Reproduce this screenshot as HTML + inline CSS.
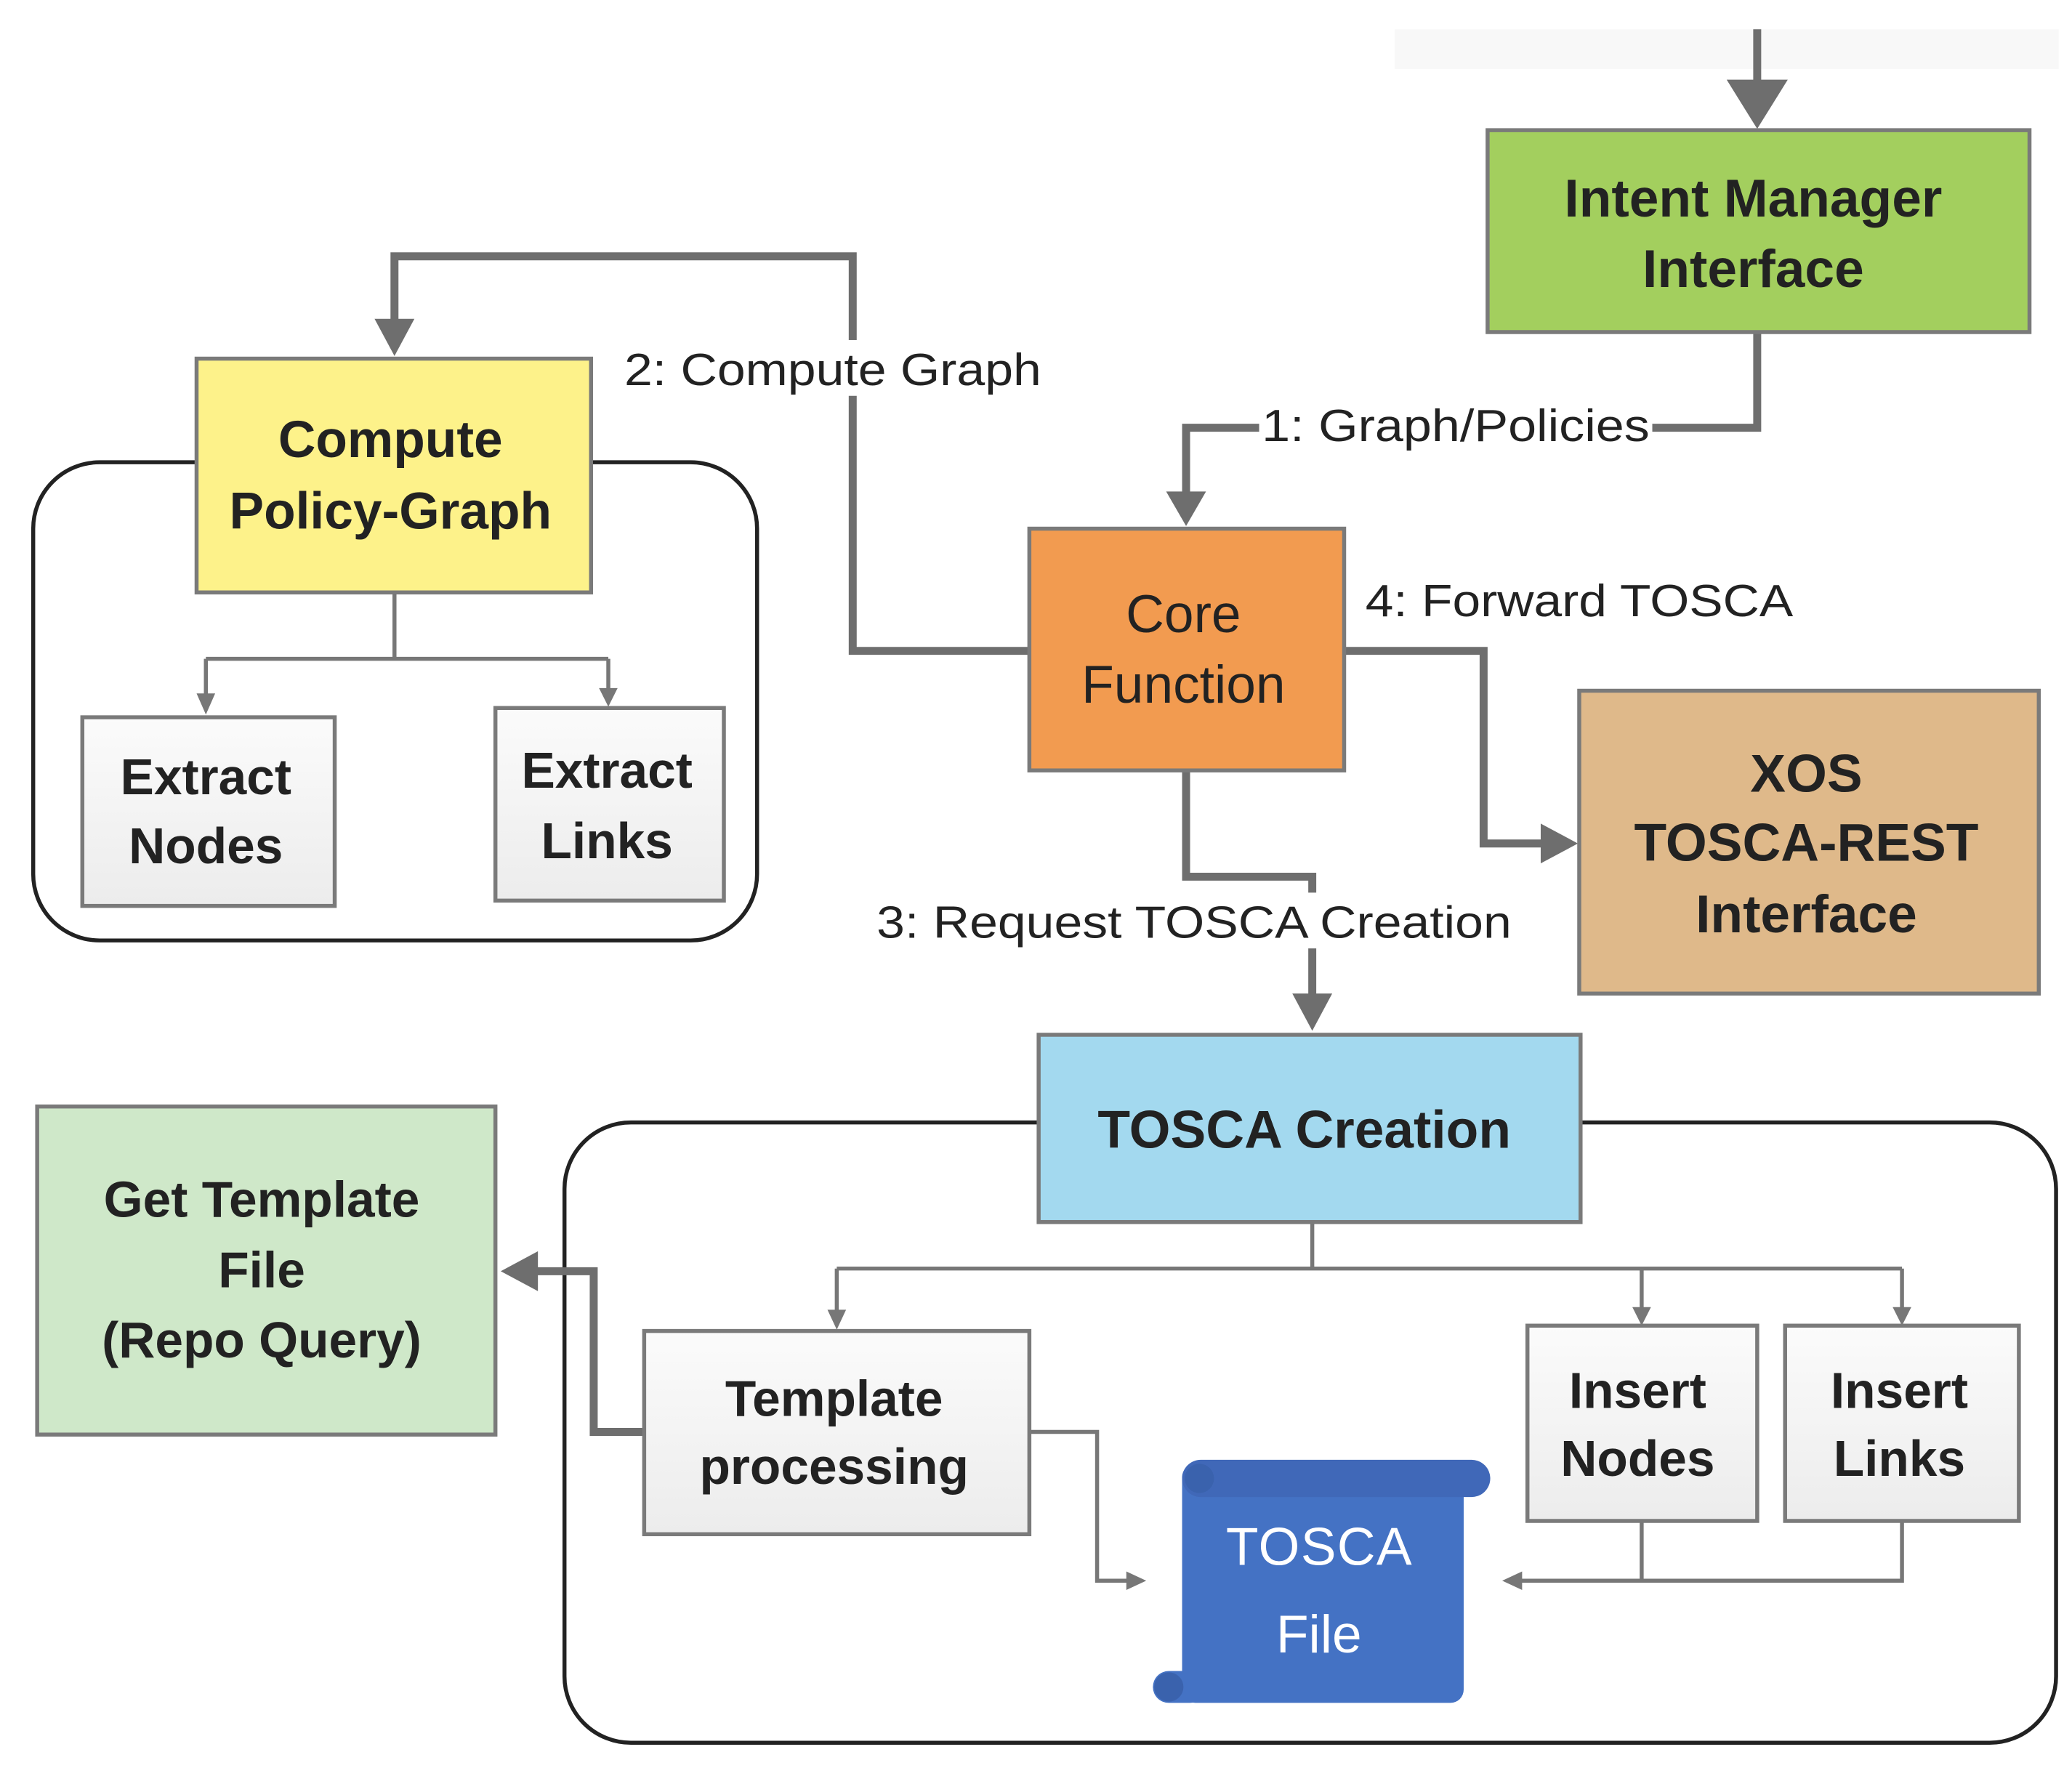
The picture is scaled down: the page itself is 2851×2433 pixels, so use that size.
<!DOCTYPE html>
<html><head><meta charset="utf-8"><style>
html,body{margin:0;padding:0;background:#fff;}
svg{display:block;}
text{font-family:"Liberation Sans",sans-serif;fill:#222;}
.b{font-weight:bold;}
</style></head><body>
<svg width="2851" height="2433" viewBox="0 0 1560 1331" preserveAspectRatio="none" xmlns="http://www.w3.org/2000/svg">
<defs>
<linearGradient id="g" x1="0" y1="0" x2="0" y2="1"><stop offset="0" stop-color="#fbfbfb"/><stop offset="1" stop-color="#ececec"/></linearGradient>
</defs>
<rect x="1050" y="22" width="500" height="30" fill="#f8f8f8"/>
<rect x="25" y="348" width="545" height="360" rx="50" fill="none" stroke="#222" stroke-width="3"/>
<rect x="425" y="845" width="1123" height="467" rx="50" fill="none" stroke="#222" stroke-width="3"/>

<g fill="none" stroke="#6e6e6e" stroke-width="6">
<path d="M1323 22 V80"/>
<path d="M1323 250 V322 H893 V380"/>
<path d="M775 490 H642 V193 H297 V252"/>
<path d="M1012 490 H1117 V635 H1170"/>
<path d="M893 580 V660 H988 V758"/>
<path d="M485 1078 H447 V957 H395"/>
</g>
<g fill="#6e6e6e">
<polygon points="1300,60 1346,60 1323,97"/>
<polygon points="878,370 908,370 893,396"/>
<polygon points="282,240 312,240 297,268"/>
<polygon points="1160,620 1160,650 1188,635"/>
<polygon points="973,748 1003,748 988,776"/>
<polygon points="405,942 405,972 377,957"/>
</g>
<g fill="none" stroke="#777" stroke-width="3">
<path d="M297 446 V496 M155 496 H458 M155 496 V524 M458 496 V520"/>
<path d="M988 920 V955 M630 955 H1432 M630 955 V990 M1236 955 V988 M1432 955 V988"/>
<path d="M775 1078 H826 V1190 H850"/>
<path d="M1236 1145 V1190 M1432 1145 V1190 H1145"/>
</g>
<g fill="#777">
<polygon points="148,522 162,522 155,538"/>
<polygon points="451,518 465,518 458,532"/>
<polygon points="623,986 637,986 630,1001"/>
<polygon points="1229,984 1243,984 1236,998"/>
<polygon points="1425,984 1439,984 1432,998"/>
<polygon points="848,1183 848,1197 863,1190"/>
<polygon points="1146,1183 1146,1197 1131,1190"/>
</g>

<rect x="948" y="302" width="296" height="36" fill="#fff"/>
<text x="950" y="332" font-size="34" textLength="292" lengthAdjust="spacingAndGlyphs">1: Graph/Policies</text>
<rect x="467" y="256" width="320" height="42" fill="#fff"/>
<text x="470" y="290" font-size="34" textLength="314" lengthAdjust="spacingAndGlyphs">2: Compute Graph</text>
<rect x="1024" y="430" width="330" height="42" fill="#fff"/>
<text x="1028" y="464" font-size="34" textLength="322" lengthAdjust="spacingAndGlyphs">4: Forward TOSCA</text>
<rect x="657" y="672" width="485" height="42" fill="#fff"/>
<text x="660" y="706" font-size="34" textLength="478" lengthAdjust="spacingAndGlyphs">3: Request TOSCA Creation</text>

<g stroke="#7a7a7a" stroke-width="3">
<rect x="1120" y="98" width="408" height="152" fill="#a3cf5e"/>
<rect x="775" y="398" width="237" height="182" fill="#f29b50"/>
<rect x="148" y="270" width="297" height="176" fill="#fdf28a"/>
<rect x="62" y="540" width="190" height="142" fill="url(#g)"/>
<rect x="373" y="533" width="172" height="145" fill="url(#g)"/>
<rect x="1189" y="520" width="346" height="228" fill="#dfb98a"/>
<rect x="782" y="779" width="408" height="141" fill="#a3d9ef"/>
<rect x="28" y="833" width="345" height="247" fill="#cfe8c9"/>
<rect x="485" y="1002" width="290" height="153" fill="url(#g)"/>
<rect x="1150" y="998" width="173" height="147" fill="url(#g)"/>
<rect x="1344" y="998" width="176" height="147" fill="url(#g)"/>
</g>

<g fill="#4472c4">
<rect x="890" y="1102" width="212" height="180" rx="10"/>
<rect x="868" y="1258" width="40" height="24" rx="12"/>
<rect x="890" y="1099" width="232" height="28" rx="14" fill="#4068b8"/>
<circle cx="903" cy="1113" r="11" fill="#3a62ad"/>
<circle cx="880" cy="1270" r="11" fill="#3a62ad"/>
</g>

<g text-anchor="middle" font-size="40">
<text class="b" x="1320" y="163">Intent Manager</text>
<text class="b" x="1320" y="216">Interface</text>
<text x="891" y="476">Core</text>
<text x="891" y="529">Function</text>
<text class="b" x="294" y="344" font-size="39">Compute</text>
<text class="b" x="294" y="398" font-size="39">Policy-Graph</text>
<text class="b" x="155" y="598" font-size="38">Extract</text>
<text class="b" x="155" y="650" font-size="38">Nodes</text>
<text class="b" x="457" y="593" font-size="38">Extract</text>
<text class="b" x="457" y="646" font-size="38">Links</text>
<text class="b" x="1360" y="596">XOS</text>
<text class="b" x="1360" y="648">TOSCA-REST</text>
<text class="b" x="1360" y="702">Interface</text>
<text class="b" x="982" y="864">TOSCA Creation</text>
<text class="b" x="197" y="916" font-size="38">Get Template</text>
<text class="b" x="197" y="969" font-size="38">File</text>
<text class="b" x="197" y="1022" font-size="38">(Repo Query)</text>
<text class="b" x="628" y="1066" font-size="38">Template</text>
<text class="b" x="628" y="1117" font-size="38">processing</text>
<text class="b" x="1233" y="1060" font-size="38">Insert</text>
<text class="b" x="1233" y="1111" font-size="38">Nodes</text>
<text class="b" x="1430" y="1060" font-size="38">Insert</text>
<text class="b" x="1430" y="1111" font-size="38">Links</text>
<text x="993" y="1178" style="fill:#fff" textLength="140">TOSCA</text>
<text x="993" y="1244" style="fill:#fff">File</text>
</g>
</svg>
</body></html>
